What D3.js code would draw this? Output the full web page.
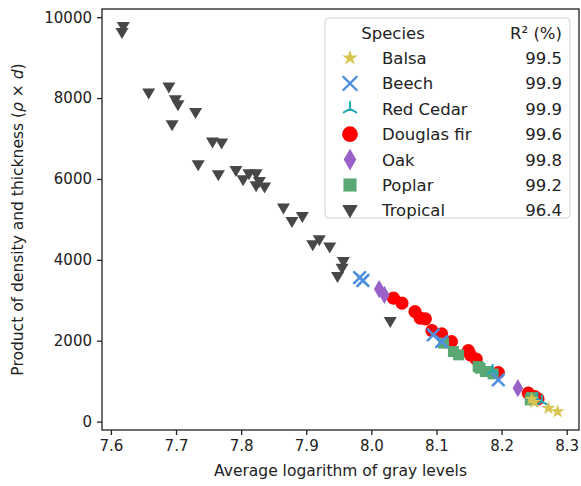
<!DOCTYPE html>
<html>
<head>
<meta charset="utf-8">
<script src="https://cdn.jsdelivr.net/npm/d3@7"></script>
<style>
  body { margin: 0; background: #fff; }
  text { font-family: "DejaVu Sans", sans-serif; fill: #222; }
</style>
</head>
<body>
<div id="chart"></div>
<script>
// species list, legend stats
const species = ["Balsa", "Beech", "Red Cedar", "Douglas fir", "Oak", "Poplar", "Tropical"];
const r2 = ["99.5", "99.9", "99.9", "99.6", "99.8", "99.2", "96.4"];
const colors = ["#d8c450", "#4f8fe0", "#1fa9b8", "#ff0000", "#9a62c8", "#5aa874", "#474747"];

// points per species: [avg log gray level, rho x d]
const balsa = [[8.246, 553], [8.250, 480], [8.272, 331], [8.286, 247]];
const beech = [[7.982, 3560], [7.987, 3490], [8.095, 2145], [8.108, 1979], [8.195, 1032]];
const redCedar = [[8.186, 1260], [8.255, 560], [8.262, 495]];
const douglas = [[8.034, 3053], [8.047, 2929], [8.067, 2721], [8.075, 2558], [8.083, 2541],
  [8.093, 2251], [8.108, 2170], [8.123, 1979], [8.149, 1757], [8.152, 1650], [8.161, 1544],
  [8.195, 1212], [8.241, 703], [8.251, 619], [8.256, 560]];
const oak = [[8.012, 3276], [8.020, 3135], [8.225, 826]];
const poplar = [[8.111, 1940], [8.126, 1732], [8.134, 1650], [8.164, 1361], [8.167, 1321],
  [8.175, 1237], [8.180, 1237], [8.187, 1180], [8.244, 537], [8.246, 594]];
const tropical = [[7.619, 9772], [7.617, 9624], [7.658, 8125], [7.689, 8273], [7.694, 7340],
  [7.699, 7959], [7.703, 7835], [7.730, 7645], [7.734, 6351], [7.756, 6912], [7.770, 6888],
  [7.765, 6104], [7.792, 6210], [7.803, 5980], [7.812, 6128], [7.823, 6128], [7.828, 5938],
  [7.823, 5831], [7.836, 5799], [7.865, 5280], [7.878, 4948], [7.894, 5072], [7.910, 4372],
  [7.920, 4495], [7.936, 4315], [7.957, 3958], [7.955, 3795], [7.948, 3587], [8.029, 2474]];

const xTicks = [7.6, 7.7, 7.8, 7.9, 8.0, 8.1, 8.2, 8.3];
const yTicks = [0, 2000, 4000, 6000, 8000, 10000];

const W = 581, H = 486;
const margin = {top: 9, right: 2, bottom: 56, left: 102};
const width = W - margin.left - margin.right;
const height = H - margin.top - margin.bottom;

const svg = d3.select("#chart").append("svg")
  .attr("width", W).attr("height", H);

const chart = svg.append("g")
  .attr("transform", `translate(${margin.left},${margin.top})`);

const x = d3.scaleLinear().domain([7.5863, 8.3189]).range([0, width]);
const y = d3.scaleLinear().domain([-208, 10203]).range([height, 0]);

// axes
const xAxis = chart.append("g")
  .attr("transform", `translate(0,${height})`)
  .call(d3.axisBottom(x).tickValues(xTicks).tickFormat(d3.format(".1f")).tickSizeOuter(0).tickSize(5).tickPadding(5));
const yAxis = chart.append("g")
  .call(d3.axisLeft(y).tickValues(yTicks).tickFormat(d3.format("d")).tickSizeOuter(0).tickSize(5).tickPadding(5));
[xAxis, yAxis].forEach(g => {
  g.select(".domain").remove();
  g.selectAll("line").attr("stroke", "#222").attr("stroke-width", 1.3);
  g.selectAll("text").style("font-size", "15px").attr("fill", "#222");
});

// spines
chart.append("rect")
  .attr("width", width).attr("height", height)
  .attr("fill", "none").attr("stroke", "#222").attr("stroke-width", 1.3);

// marker shapes
function markerPath(i) {
  switch (i) {
    case 0: return d3.symbol(d3.symbolStar, 62)();
    case 1: return "M-5.5,-5.5L5.5,5.5M-5.5,5.5L5.5,-5.5";
    case 2: return "M0,0L0,-6M0,0L-5.2,3M0,0L5.2,3";
    case 3: return d3.symbol(d3.symbolCircle, 135)();
    case 4: return d3.symbol(d3.symbolDiamond, 95)();
    case 5: return d3.symbol(d3.symbolSquare, 120)();
    case 6: return "M-6.5,-4.5L6.5,-4.5L0,6.5Z";
  }
}
const stroked = i => i === 1 || i === 2;

function drawSeries(g, i, pts) {
  g.selectAll(null)
    .data(pts)
    .join("path")
    .attr("transform", d => `translate(${x(d[0])},${y(d[1])})`)
    .attr("d", markerPath(i))
    .attr("fill", stroked(i) ? "none" : colors[i])
    .attr("stroke", stroked(i) ? colors[i] : "none")
    .attr("stroke-width", i === 1 ? 2.6 : 2)
    .attr("stroke-linecap", "round");
}

const marks = chart.append("g");
const order = [[3, douglas], [5, poplar], [4, oak], [1, beech], [2, redCedar], [0, balsa], [6, tropical]];
order.forEach(([i, pts]) => drawSeries(marks.append("g"), i, pts));

// axis titles
svg.append("text")
  .attr("x", margin.left + width / 2)
  .attr("y", 476)
  .attr("text-anchor", "middle")
  .style("font-size", "15.5px")
  .text("Average logarithm of gray levels");

const yt = svg.append("text")
  .attr("transform", `translate(23,${margin.top + height / 2}) rotate(-90)`)
  .attr("text-anchor", "middle")
  .style("font-size", "15.5px");
yt.append("tspan").text("Product of density and thickness (");
yt.append("tspan").style("font-style", "italic").text("ρ");
yt.append("tspan").text(" × ");
yt.append("tspan").style("font-style", "italic").text("d");
yt.append("tspan").text(")");

// legend
const legend = svg.append("g").attr("transform", "translate(325,18)");
legend.append("rect")
  .attr("width", 245).attr("height", 200).attr("rx", 4)
  .attr("fill", "#fff").attr("fill-opacity", 0.85)
  .attr("stroke", "#d0d0d0").attr("stroke-width", 1);
legend.append("text").attr("x", 68).attr("y", 21).attr("text-anchor", "middle")
  .style("font-size", "16.5px").text("Species");
legend.append("text").attr("x", 237).attr("y", 21).attr("text-anchor", "end")
  .style("font-size", "16.5px").text("R² (%)");

const rows = legend.selectAll("g.row")
  .data(species)
  .join("g")
  .attr("class", "row")
  .attr("transform", (d, i) => `translate(0,${40 + i * 25.4})`);
rows.append("path")
  .attr("transform", (d, i) => `translate(25,0) scale(${i === 0 ? 1.1 : 1.2})`)
  .attr("d", (d, i) => markerPath(i))
  .attr("fill", (d, i) => stroked(i) ? "none" : colors[i])
  .attr("stroke", (d, i) => stroked(i) ? colors[i] : "none")
  .attr("stroke-width", (d, i) => i === 1 ? 2 : 1.6)
  .attr("stroke-linecap", "round");
rows.append("text").attr("x", 57).attr("y", 6)
  .style("font-size", "16.5px").text(d => d);
rows.append("text").attr("x", 237).attr("y", 6).attr("text-anchor", "end")
  .style("font-size", "16.5px").text((d, i) => r2[i]);
</script>
</body>
</html>
